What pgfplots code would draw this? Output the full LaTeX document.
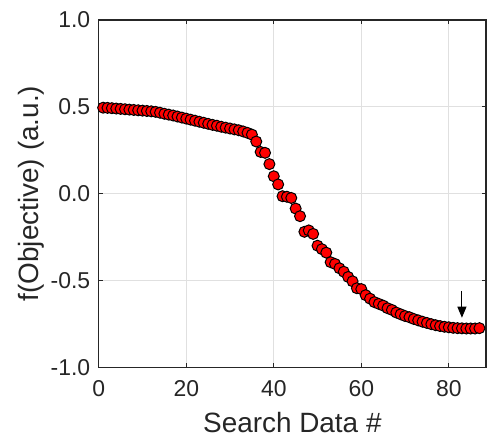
\documentclass[border=0pt]{standalone}
\usepackage{fontspec}
\setmainfont{Liberation Sans}
\usepackage{pgfplots}
\pgfplotsset{compat=1.18}
\usetikzlibrary{arrows.meta}
\definecolor{axgray}{rgb}{0.15,0.15,0.15}
\definecolor{gridgray}{rgb}{0.88,0.88,0.88}
\begin{document}
\begin{tikzpicture}
\begin{axis}[
  name=ax,
  scale only axis,
  width=387bp, height=347bp,
  xmin=0, xmax=88.5, ymin=-1, ymax=1,
  xtick={0,20,40,60,80},
  ytick={-1,-0.5,0,0.5,1},
  yticklabels={-1.0,-0.5,0.0,0.5,1.0},
  tick align=inside,
  major tick length=4bp,
  axis line style={axgray, line width=1.2bp},
  tick style={axgray, line width=0.8bp},
  grid=major,
  major grid style={gridgray, line width=0.8bp},
  tick label style={font=\fontsize{23}{26}\selectfont, text=axgray},
  xticklabel style={yshift=-10bp},
  yticklabel style={xshift=-5bp},
  label style={font=\fontsize{28}{32}\selectfont, text=axgray},
  xlabel style={yshift=-8bp},
  xlabel={Search Data \#},
  ylabel={f(Objective) (a.u.)},
  /pgf/number format/assume math mode=true,
  clip=false,
]
\addplot[only marks, mark=*, mark size=5.5bp, mark options={fill=red, draw=black, line width=1bp}] table {
x y
1 0.495
2 0.494
3 0.492
4 0.490
5 0.488
6 0.486
7 0.484
8 0.482
9 0.480
10 0.478
11 0.476
12 0.474
13 0.471
14 0.466
15 0.460
16 0.455
17 0.450
18 0.444
19 0.438
20 0.432
21 0.426
22 0.420
23 0.414
24 0.408
25 0.402
26 0.396
27 0.391
28 0.385
29 0.380
30 0.375
31 0.370
32 0.365
33 0.358
34 0.350
35 0.340
36 0.300
37 0.240
38 0.235
39 0.170
40 0.100
41 0.053
42 -0.015
43 -0.018
44 -0.025
45 -0.086
46 -0.130
47 -0.220
48 -0.212
49 -0.232
50 -0.300
51 -0.320
52 -0.340
53 -0.395
54 -0.405
55 -0.430
56 -0.450
57 -0.480
58 -0.505
59 -0.545
60 -0.550
61 -0.585
62 -0.605
63 -0.625
64 -0.635
65 -0.645
66 -0.660
67 -0.670
68 -0.685
69 -0.695
70 -0.705
71 -0.712
72 -0.722
73 -0.730
74 -0.738
75 -0.745
76 -0.752
77 -0.758
78 -0.763
79 -0.767
80 -0.770
81 -0.773
82 -0.775
83 -0.776
84 -0.777
85 -0.777
86 -0.777
87 -0.775
};
\draw[black, line width=1bp, -{Triangle[width=9bp,length=11bp]}] (axis cs:83,-0.56) -- (axis cs:83,-0.715);
\end{axis}
\pgfresetboundingbox
\path ([xshift=-98.7bp,yshift=-71bp]ax.south west) rectangle ([xshift=1bp,yshift=20bp]ax.north east);
\end{tikzpicture}
\end{document}
